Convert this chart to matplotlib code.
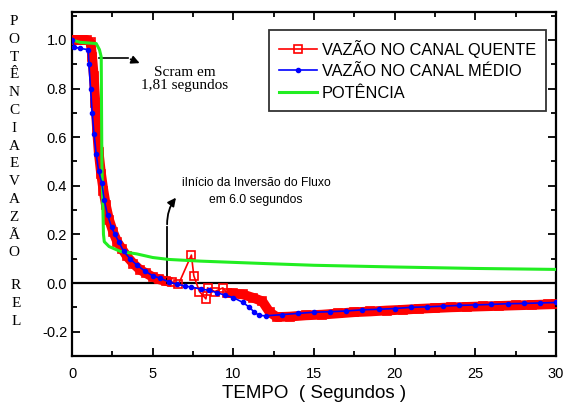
import matplotlib
matplotlib.use("Agg")
import matplotlib.pyplot as plt
from matplotlib.ticker import MultipleLocator, FormatStrFormatter

plt.rcParams['font.family'] = ['Liberation Sans', 'DejaVu Sans']

# --- data ---
# canal quente (hot channel)
t_quente = [0.0, 0.3, 0.6, 0.9, 1.15, 1.25, 1.35, 1.45, 1.55, 1.65, 1.8, 1.95,
            2.1, 2.3, 2.55, 2.8, 3.1, 3.4, 3.8, 4.2, 4.6, 5.0, 5.4, 5.8, 6.2,
            6.6, 7.4, 7.55, 7.9, 8.3, 8.4, 8.85, 9.35, 9.6,
            10.0, 10.6, 11.2, 11.8, 12.25, 12.7, 13.5, 14.5, 15.5, 16.5, 17.5,
            18.5, 19.5, 20.5, 21.5, 22.5, 23.5, 24.5, 25.5, 26.5, 27.5, 28.5,
            29.5, 30.0]
v_quente = [1.0, 1.0, 1.0, 1.0, 0.99, 0.93, 0.85, 0.74, 0.63, 0.54, 0.45, 0.38,
            0.32, 0.26, 0.21, 0.17, 0.14, 0.11, 0.08, 0.055, 0.04, 0.025, 0.015,
            0.008, 0.004,
            -0.005, 0.115, 0.03, -0.035, -0.065, -0.02, -0.035, -0.02, -0.04,
            -0.043, -0.047, -0.06, -0.075, -0.12, -0.14, -0.138, -0.133, -0.13,
            -0.125, -0.12, -0.117, -0.113, -0.11, -0.106, -0.103, -0.1, -0.098,
            -0.096, -0.094, -0.092, -0.09, -0.088, -0.087]

# canal medio (average channel)
t_medio = [0.0, 0.15, 0.5, 1.0, 1.05, 1.15, 1.25, 1.36, 1.5, 1.65, 1.85, 2.0,
           2.2, 2.45, 2.66, 2.9, 3.2, 3.6, 4.0, 4.5, 5.0, 5.45, 6.0, 6.5, 7.0,
           7.4, 8.0, 8.5, 9.0, 9.5, 10.0, 10.6, 11.0, 11.3, 11.6, 12.0, 13.0,
           14.0, 15.0, 16.0, 17.0, 18.0, 19.0, 20.0, 21.0, 22.0, 23.0, 24.0,
           25.0, 26.0, 27.0, 28.0, 29.0, 30.0]
v_medio = [1.0, 0.97, 0.965, 0.96, 0.9, 0.8, 0.7, 0.615, 0.53, 0.46, 0.41, 0.34,
           0.28, 0.23, 0.2, 0.17, 0.13, 0.1, 0.075, 0.05, 0.03, 0.02, 0.005,
           -0.005, -0.012, -0.017, -0.025, -0.03, -0.04, -0.05, -0.06, -0.08,
           -0.1, -0.12, -0.133, -0.135, -0.13, -0.125, -0.12, -0.118, -0.115,
           -0.11, -0.108, -0.105, -0.1, -0.098, -0.095, -0.092, -0.09, -0.088,
           -0.085, -0.084, -0.082, -0.08]

# potencia (power)
t_pot = [0.0, 0.5, 1.5, 1.7, 1.81, 1.85, 1.95, 2.0, 2.3, 3.0, 4.0, 5.0, 6.0,
         8.0, 10.0, 12.0, 15.0, 20.0, 25.0, 30.0]
v_pot = [1.0, 0.99, 0.985, 0.96, 0.93, 0.5, 0.2, 0.17, 0.15, 0.13, 0.12, 0.105,
         0.097, 0.09, 0.085, 0.08, 0.073, 0.066, 0.06, 0.056]

t_scram = 1.81
t_inversao = 6.0

fig = plt.figure(figsize=(5.64, 4.12), dpi=100)
ax = fig.add_axes([0.1277, 0.136, 0.858, 0.835])

# thick band for the densely sampled parts of the hot channel
n_first = t_quente.index(6.2) + 1
n_second = t_quente.index(9.6)
ax.plot(t_quente[:n_first], v_quente[:n_first], color='red', lw=7,
        solid_capstyle='butt', zorder=2)
ax.plot(t_quente[n_second:], v_quente[n_second:], color='red', lw=7,
        solid_capstyle='butt', zorder=2)
ax.plot(t_quente, v_quente, color='red', lw=1.2, marker='s', ms=5.5,
        mfc='none', mec='red', mew=1.2, zorder=3,
        label='VAZÃO NO CANAL QUENTE')
ax.plot(t_medio, v_medio, color='blue', lw=1.2, marker='o', ms=3,
        mfc='blue', mec='blue', zorder=4, label='VAZÃO NO CANAL MÉDIO')
ax.plot(t_pot, v_pot, color='#22ee22', lw=2.2, zorder=3, label='POTÊNCIA')

ax.axhline(0, color='black', lw=1.6, zorder=1)

ax.set_xlim(0, 30)
ax.set_ylim(-0.3, 1.115)
ax.xaxis.set_major_locator(MultipleLocator(5))
ax.xaxis.set_minor_locator(MultipleLocator(2.5))
ax.yaxis.set_major_locator(MultipleLocator(0.2))
ax.yaxis.set_minor_locator(MultipleLocator(0.1))
ax.yaxis.set_major_formatter(FormatStrFormatter('%.1f'))
ax.tick_params(which='both', direction='in', top=True, right=True,
               labelsize=10.5, width=1.3)
ax.tick_params(which='major', length=6)
ax.tick_params(which='minor', length=3.5)
ax.tick_params(axis='x', pad=8)
for s in ax.spines.values():
    s.set_linewidth(1.6)

ax.set_xlabel('TEMPO  ( Segundos )', fontsize=13.5, labelpad=3)

# vertical stacked y label
serif = ['Liberation Serif', 'DejaVu Serif']
fig.text(0.025, 1 - 15 / 412, '\n'.join('POTÊNCIAEVAZÃO'), family=serif,
         fontsize=11, ha='center', va='top', linespacing=1.48)
fig.text(0.028, 1 - 279 / 412, '\n'.join('REL'), family=serif,
         fontsize=11, ha='center', va='top', linespacing=1.48)

# scram annotation
ax.plot([t_scram - 0.12, 3.47], [0.925, 0.925], color='black', lw=1.2)
ax.annotate('', xy=(4.35, 0.90), xytext=(3.47, 0.925),
            arrowprops=dict(arrowstyle='-|>', color='black', lw=1.2,
                            mutation_scale=12))
ax.text(7.0, 0.84, 'Scram em\n1,81 segundos', family=serif, fontsize=11,
        ha='center', va='center', linespacing=0.95)

# flow reversal annotation
ax.plot([t_inversao - 0.1, t_inversao - 0.1], [0.0, 0.23], color='black',
        lw=1.3)
ax.annotate('', xy=(6.55, 0.36), xytext=(t_inversao - 0.1, 0.23),
            arrowprops=dict(arrowstyle='-|>', color='black', lw=1.3,
                            mutation_scale=12,
                            connectionstyle='arc3,rad=-0.2'))
ax.text(11.4, 0.41, 'iInício da Inversão do Fluxo', fontsize=8.7,
        ha='center', va='center')
ax.text(11.4, 0.34, 'em 6.0 segundos', fontsize=8.7, ha='center',
        va='center')

leg = ax.legend(loc='upper right', bbox_to_anchor=(0.979, 0.948),
                fontsize=11.8, frameon=True, fancybox=False,
                handlelength=2.3, borderpad=0.6, labelspacing=0.4,
                handletextpad=0.3, borderaxespad=0)
leg.get_frame().set_edgecolor('black')
leg.get_frame().set_linewidth(1.3)

fig.savefig('out.png', dpi=100)
